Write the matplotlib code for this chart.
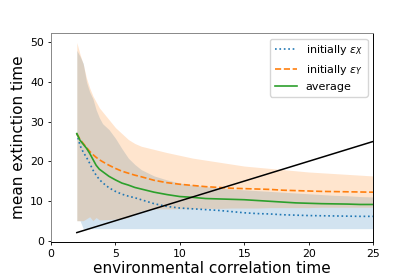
import matplotlib
matplotlib.use("Agg")
import matplotlib.pyplot as plt
import numpy as np

# environmental correlation time
tau = [2, 2.25, 2.5, 2.75, 3, 3.25, 3.5, 3.75, 4, 4.5, 5, 5.5, 6, 6.5, 7, 8, 9,
       10, 11, 12, 13, 14, 15, 16, 17, 18, 19, 20, 21, 22, 23, 24, 25]

# mean extinction time, initially eps_X
mean_x = [27, 24, 22.3, 21, 19.5, 17.8, 16.5, 15.4, 14.6, 13.3, 12.4, 11.7, 11.2,
          10.8, 10.3, 9.3, 8.6, 8.2, 8.0, 7.8, 7.6, 7.3, 7.0, 6.8, 6.7, 6.5,
          6.4, 6.3, 6.25, 6.2, 6.15, 6.1, 6.1]
low_x = [5, 5, 3, 3, 3, 3, 3, 3, 3, 3, 3, 3, 3, 3, 3, 3, 3, 3, 3, 3, 3, 3, 3,
         3, 3, 3, 3, 3, 3, 3, 3, 3, 3]
high_x = [48, 46.5, 44.7, 40, 37.5, 35.8, 33, 31, 29.5, 28, 25.8, 23.2, 20.8,
          19.2, 17.9, 16.3, 15.3, 14.5, 14, 13.6, 13.3, 13, 12.8, 12.6, 12.4,
          12.2, 12, 11.8, 11.6, 11.4, 11.3, 11.1, 11]

# mean extinction time, initially eps_Y
mean_y = [27, 25.5, 24.5, 23.5, 22.5, 21.7, 21, 20.4, 19.9, 19, 18.2, 17.5, 17,
          16.5, 16.1, 15.2, 14.6, 14.2, 13.9, 13.6, 13.4, 13.2, 13.1, 13, 12.9,
          12.7, 12.6, 12.5, 12.4, 12.35, 12.3, 12.25, 12.2]
low_y = [5, 5, 5, 5.5, 6, 5, 5.8, 5.2, 5.2, 5.3, 5.4, 5.5, 5.8, 6.8, 7.5, 8,
         8, 8, 8, 8.1, 8.1, 8.2, 8.2, 8.2, 8.3, 8.3, 8.3, 8.3, 8.4, 8.4, 8.4,
         8.4, 8.4]
high_y = [50, 47, 44.5, 41, 38.5, 36.5, 35, 33.5, 32.5, 30.5, 28.5, 27, 25.5,
          24.5, 23.8, 23, 22.2, 21.5, 20.8, 20.3, 19.8, 19.3, 18.8, 18.5, 18.2,
          17.9, 17.6, 17.3, 17.1, 16.9, 16.7, 16.5, 16.3]

# average of both
mean_avg = [27, 25.3, 24.3, 23.3, 22, 20.5, 19, 18, 17.4, 16.2, 15.3, 14.5, 14,
            13.4, 13, 12.2, 11.6, 11.1, 10.9, 10.6, 10.5, 10.4, 10.3, 10.1, 9.9,
            9.7, 9.5, 9.4, 9.3, 9.25, 9.2, 9.1, 9.1]

# reference line
ref_x = [2, 25]
ref_y = [2, 25]

fig = plt.figure(figsize=(4.15, 2.77), dpi=100)
ax = fig.add_axes([0.123, 0.126, 0.776, 0.755])

ax.fill_between(tau, low_x, high_x, color='tab:blue', alpha=0.2, linewidth=0)
ax.fill_between(tau, low_y, high_y, color='tab:orange', alpha=0.2, linewidth=0)
ax.plot(tau, mean_x, color='tab:blue', linestyle=':', linewidth=1.2,
        label=r'initially $\varepsilon_X$')
ax.plot(tau, mean_y, color='tab:orange', linestyle='--', linewidth=1.2,
        label=r'initially $\varepsilon_Y$')
ax.plot(tau, mean_avg, color='tab:green', linestyle='-', linewidth=1.2,
        label='average')
ax.plot(ref_x, ref_y, color='k', linewidth=1.1)

ax.set_xlim(0, 25)
ax.set_ylim(-0.4, 52.4)
ax.tick_params(labelsize=7.8, length=2.5, width=0.6, pad=2.5)
for s in ax.spines.values():
    s.set_linewidth(0.7)
ax.spines['top'].set_color('#888888')
ax.spines['left'].set_color('#888888')
ax.set_xlabel('environmental correlation time', fontsize=11, labelpad=1.5)
ax.set_ylabel('mean extinction time', fontsize=11, labelpad=3)
ax.legend(loc='upper right', fontsize=8)

fig.savefig('out.png', dpi=100)
